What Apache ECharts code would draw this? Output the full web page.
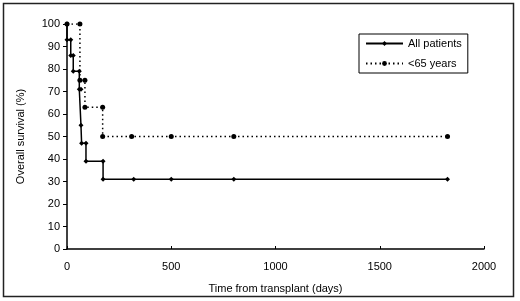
<!DOCTYPE html>
<html>
<head>
<meta charset="utf-8">
<script src="https://cdn.jsdelivr.net/npm/echarts@6/dist/echarts.min.js"></script>
<style>
  html, body { margin: 0; padding: 0; background: #fff; }
  #chart { width: 520px; height: 301px; }
</style>
</head>
<body>
<div id="chart"></div>
<script>
// Kaplan-Meier steps (days, % surviving)
var daysAll = [0, 0, 18, 18, 30, 30, 59, 59, 67, 67, 70, 91, 91, 173, 173, 320, 500, 800, 1825];
var survAll = [100, 93, 93, 86, 86, 79, 79, 71, 71, 55, 47, 47, 39, 39, 31, 31, 31, 31, 31];

var daysYoung = [0, 62, 62, 86, 86, 171, 171, 310, 500, 800, 1825];
var survYoung = [100, 100, 75, 75, 63, 63, 50, 50, 50, 50, 50];

var seriesNames = ['All patients', '<65 years'];

function pairs(xs, ys) {
  return xs.map(function (x, i) { return [x, ys[i]]; });
}

var chart = echarts.init(document.getElementById('chart'));
var font = 'Liberation Sans, Arial, sans-serif';

chart.setOption({
  animation: false,
  backgroundColor: '#fff',
  grid: { left: 67, right: 36, top: 24, bottom: 52 },
  graphic: [{
    type: 'rect',
    shape: { x: 3.5, y: 3.5, width: 510, height: 293 },
    style: { fill: 'none', stroke: '#222', lineWidth: 1.5 },
    silent: true
  }],
  legend: {
    left: 359, top: 34,
    orient: 'vertical',
    data: seriesNames,
    itemWidth: 37, itemHeight: 6, itemGap: 9,
    padding: [4, 6],
    borderColor: '#000', borderWidth: 1,
    textStyle: { fontFamily: font, fontSize: 11, color: '#000' }
  },
  xAxis: {
    type: 'value', min: 0, max: 2000, interval: 500,
    name: 'Time from transplant (days)',
    nameLocation: 'middle', nameGap: 34,
    nameTextStyle: { fontFamily: font, fontSize: 11, color: '#000' },
    axisLine: { lineStyle: { color: '#000', width: 1.5 } },
    axisTick: { inside: true, length: 3, lineStyle: { color: '#000' } },
    axisLabel: { fontFamily: font, fontSize: 11, color: '#000', margin: 12,
      formatter: function (v) { return String(v); } },
    splitLine: { show: false }
  },
  yAxis: {
    type: 'value', min: 0, max: 100, interval: 10,
    name: 'Overall survival (%)',
    nameLocation: 'middle', nameGap: 41,
    nameTextStyle: { fontFamily: font, fontSize: 11, color: '#000' },
    axisLine: { show: true, lineStyle: { color: '#000', width: 1.5 } },
    axisTick: { show: true, length: 4, lineStyle: { color: '#000' } },
    axisLabel: { fontFamily: font, fontSize: 11, color: '#000', margin: 7 },
    splitLine: { show: false }
  },
  series: [{
    name: seriesNames[0],
    type: 'line',
    data: pairs(daysAll, survAll),
    symbol: 'diamond', symbolSize: 5,
    itemStyle: { color: '#000' },
    lineStyle: { color: '#000', width: 1.5 }
  }, {
    name: seriesNames[1],
    type: 'line',
    data: pairs(daysYoung, survYoung),
    symbol: 'circle', symbolSize: 5,
    itemStyle: { color: '#000' },
    lineStyle: { color: '#000', width: 1.5, type: [1.5, 3] }
  }]
});
</script>
</body>
</html>
